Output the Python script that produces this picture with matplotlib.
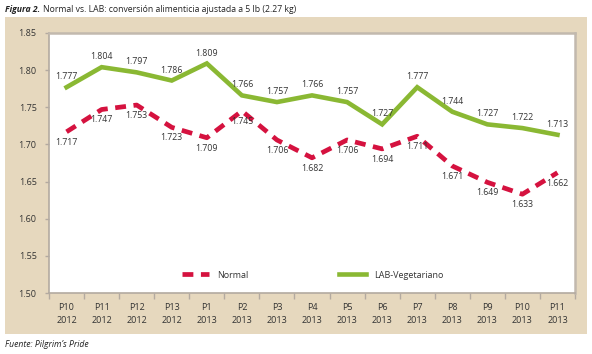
import matplotlib
matplotlib.use("Agg")
import matplotlib.pyplot as plt
from matplotlib.patches import Rectangle
import numpy as np

plt.rcParams['font.family'] = ['Open Sans', 'DejaVu Sans']

periods = ["P10", "P11", "P12", "P13", "P1", "P2", "P3", "P4", "P5", "P6", "P7", "P8", "P9", "P10", "P11"]
years = ["2012", "2012", "2012", "2012", "2013", "2013", "2013", "2013", "2013", "2013", "2013", "2013", "2013", "2013", "2013"]
normal = [1.717, 1.747, 1.753, 1.723, 1.709, 1.745, 1.706, 1.682, 1.706, 1.694, 1.711, 1.671, 1.649, 1.633, 1.662]
lab_veg = [1.777, 1.804, 1.797, 1.786, 1.809, 1.766, 1.757, 1.766, 1.757, 1.727, 1.777, 1.744, 1.727, 1.722, 1.713]
yticks = [1.50, 1.55, 1.60, 1.65, 1.70, 1.75, 1.80, 1.85]

red = "#D5123F"
green = "#8AB833"
beige = "#E6D8BE"
grey = "#B3AAA0"
txt = "#333333"

fig = plt.figure(figsize=(5.92, 3.54), dpi=100)
fig.patch.set_facecolor("white")

# beige panel behind the chart
fig.patches.append(Rectangle((0.0084, 0.0565), 0.9832, 0.8955, transform=fig.transFigure,
                             facecolor=beige, edgecolor="none", zorder=-5))

ax = fig.add_axes([0.0828, 0.1723, 0.8885, 0.7345])
ax.set_zorder(2)
ax.set_facecolor("white")
x = np.arange(len(periods))

ax.plot(x, lab_veg, color=green, lw=3.3, solid_joinstyle="miter", label="LAB-Vegetariano", zorder=3)
ax.plot(x, normal, color=red, lw=3.4, dashes=(2.3, 1.6), label="Normal", zorder=3)

for xi, v in zip(x, lab_veg):
    ax.annotate(f"{v:.3f}", (xi, v), xytext=(0, 7.5), textcoords="offset points",
                ha="center", va="center", fontsize=6.3, color=txt, zorder=4)
for xi, v in zip(x, normal):
    ax.annotate(f"{v:.3f}", (xi, v), xytext=(0, -7.5), textcoords="offset points",
                ha="center", va="center", fontsize=6.3, color=txt, zorder=4)

ax.set_xlim(-0.5, len(periods) - 0.5)
ax.set_ylim(1.50, 1.85)
ax.set_yticks(yticks)
ax.set_yticklabels([f"{t:.2f}" for t in yticks])
ax.set_xticks(x)
ax.set_xticklabels([f"{p}\n{y}" for p, y in zip(periods, years)], linespacing=1.6)
ax.set_xticks(np.arange(-0.5, len(periods)), minor=True)
ax.tick_params(axis="x", which="major", length=0, pad=7, labelsize=6.5, labelcolor=txt)
ax.tick_params(axis="x", which="minor", length=4, color=grey, width=1)
ax.tick_params(axis="y", length=3, color=grey, width=1, pad=6, labelsize=6.5, labelcolor=txt)

for s in ["left", "bottom"]:
    ax.spines[s].set_color(grey)
    ax.spines[s].set_linewidth(1.2)
for s in ["top", "right"]:
    ax.spines[s].set_color("#C2B9AE")
    ax.spines[s].set_linewidth(1.8)

handles, labels = ax.get_legend_handles_labels()
ax.legend(handles[::-1], labels[::-1], loc="center", bbox_to_anchor=(0.502, 0.069), ncol=2,
          frameon=False, fontsize=6.5, columnspacing=10, handlelength=3.0, handletextpad=0.9,
          labelcolor=txt)

# title: bold italic part then regular part
fig.canvas.draw()
t1 = fig.text(0.0084, 0.972, "Figura 2.", fontsize=6.2, fontweight="bold", fontstyle="italic",
              color="#222222", va="center", ha="left")
fig.canvas.draw()
bb = t1.get_window_extent()
x2 = (bb.x1 + 3) / fig.bbox.width
fig.text(x2, 0.972, "Normal vs. LAB: conversión alimenticia ajustada a 5 lb (2.27 kg)", fontsize=6.2,
         color="#222222", va="center", ha="left")

fig.text(0.0084, 0.028, "Fuente: Pilgrim\u2019s Pride", fontsize=6.2, fontstyle="italic",
         color="#222222", va="center", ha="left")

fig.savefig("out.png", dpi=100)
